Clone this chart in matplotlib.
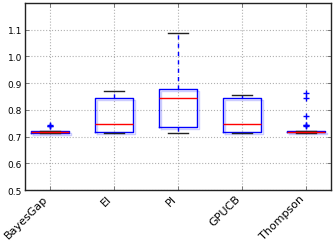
import matplotlib
matplotlib.use("Agg")
import matplotlib.pyplot as plt
import matplotlib.patheffects as pe

methods = ["BayesGap", "EI", "PI", "GPUCB", "Thompson"]
q1 = [0.715, 0.719, 0.737, 0.718, 0.716]
med = [0.718, 0.748, 0.843, 0.748, 0.718]
q3 = [0.720, 0.843, 0.878, 0.843, 0.720]
whislo = [0.714, 0.715, 0.715, 0.715, 0.714]
whishi = [0.721, 0.872, 1.089, 0.856, 0.721]
fliers = [[0.738, 0.740, 0.742],
          [],
          [],
          [],
          [0.740, 0.742, 0.745, 0.778, 0.845, 0.865]]
yticks = [0.5, 0.6, 0.7, 0.8, 0.9, 1.0, 1.1]

stats = []
for i, m in enumerate(methods):
    stats.append(dict(label=m, q1=q1[i], med=med[i], q3=q3[i],
                      whislo=whislo[i], whishi=whishi[i], fliers=fliers[i]))

fig = plt.figure(figsize=(3.36, 2.53), dpi=100)
ax = fig.add_axes([0.0744, 0.245, 0.9106, 0.739])

shadow = [pe.SimpleLineShadow(offset=(1.5, -1.5), shadow_color="blue", alpha=0.2), pe.Normal()]
ax.bxp(stats, widths=0.6, showfliers=True,
       boxprops=dict(color="blue", linewidth=1.0, path_effects=shadow),
       medianprops=dict(color="red", linewidth=1.0),
       whiskerprops=dict(color="blue", linestyle=(0, (3, 3)), linewidth=1.0),
       capprops=dict(color="#222222", linewidth=1.0),
       flierprops=dict(marker="+", markeredgecolor="blue", markersize=4, linestyle="none"))

ax.set_xlim(0.61, 5.39)
ax.set_ylim(0.5, 1.2)
ax.set_yticks(yticks)
ax.set_yticklabels([f"{v:.1f}" for v in yticks], fontsize=6.5)
ax.set_xticklabels(methods, rotation=45, ha="right", fontsize=8)
ax.grid(True, linestyle=":", color="#b0b0b0", linewidth=0.8)
ax.set_axisbelow(True)
ax.tick_params(direction="in", top=True, right=True, length=3, width=0.6, pad=2,
               color="#666666")
for s in ax.spines.values():
    s.set_color("#222222")
    s.set_linewidth(1.0)

fig.savefig("out.png", dpi=100)
